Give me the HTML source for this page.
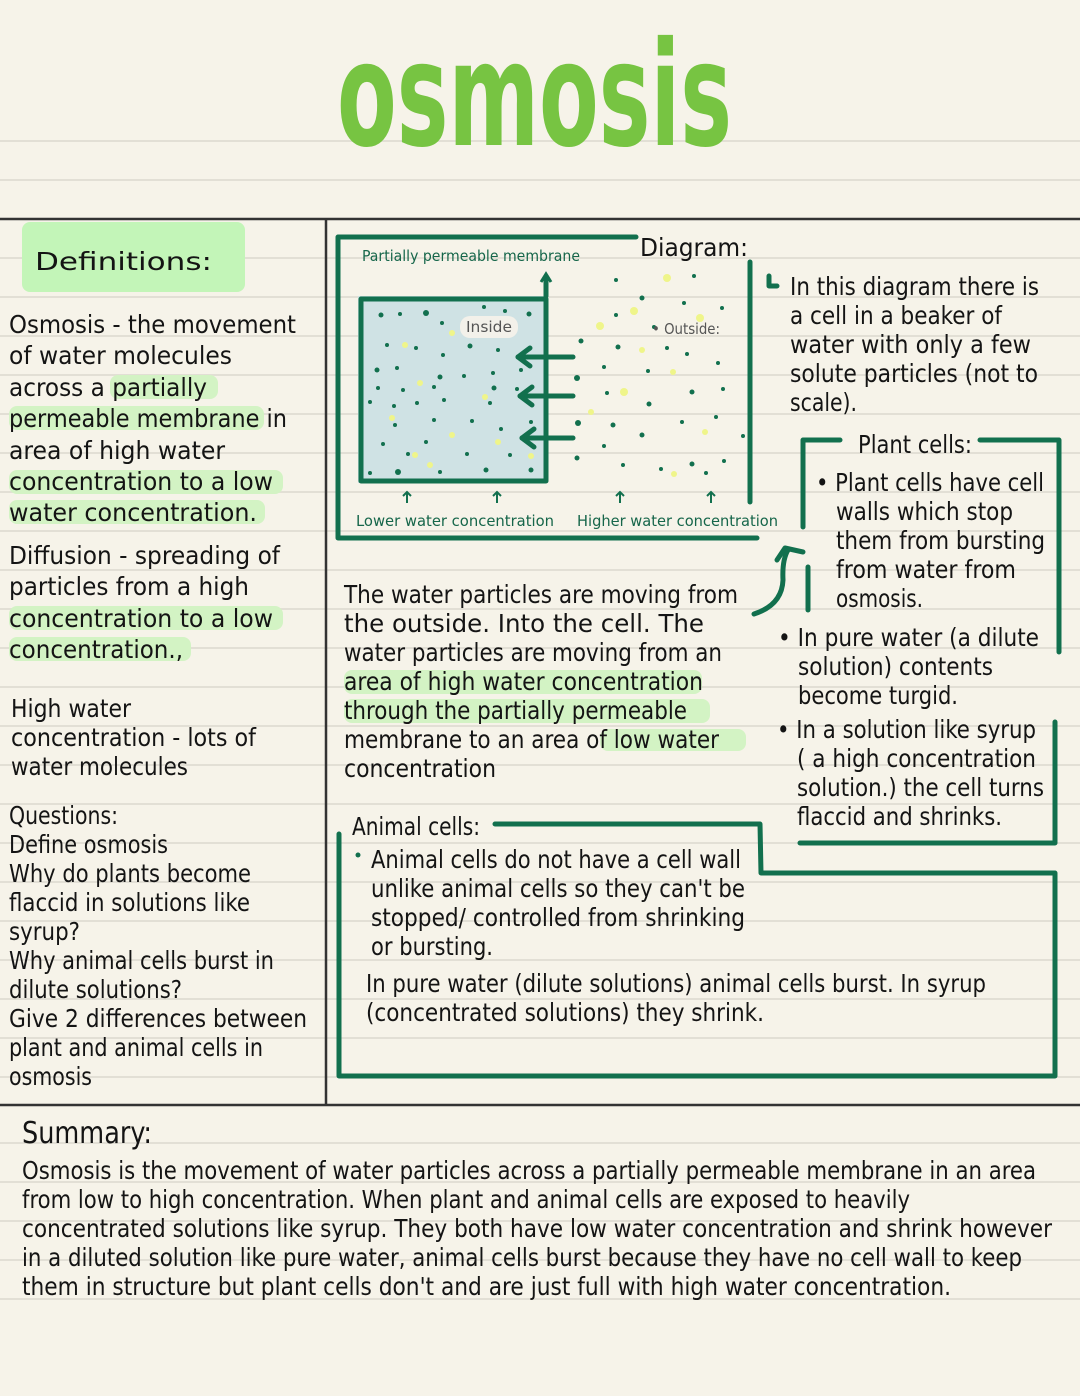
<!DOCTYPE html>
<html><head><meta charset="utf-8"><style>
html,body{margin:0;padding:0;background:#f6f3e9;}
svg{display:block}
.t{font-family:"DejaVu Sans Condensed","Liberation Sans",sans-serif;font-size:25px;fill:#141414}
.s{font-family:"DejaVu Sans Condensed","Liberation Sans",sans-serif;font-size:15px;fill:#16664a}
.g{fill:none;stroke:#12704e;stroke-width:5;stroke-linecap:round;stroke-linejoin:round}
</style></head><body>
<svg width="1080" height="1396" viewBox="0 0 1080 1396" xmlns="http://www.w3.org/2000/svg">
<rect width="1080" height="1396" fill="#f6f3e9"/>
<g stroke="#e2dfd5" stroke-width="2">
<line x1="0" y1="141" x2="1080" y2="141"/><line x1="0" y1="180" x2="1080" y2="180"/>
<line x1="0" y1="258" x2="1080" y2="258"/><line x1="0" y1="297" x2="1080" y2="297"/>
<line x1="0" y1="336" x2="1080" y2="336"/><line x1="0" y1="375" x2="1080" y2="375"/>
<line x1="0" y1="414" x2="1080" y2="414"/><line x1="0" y1="453" x2="1080" y2="453"/>
<line x1="0" y1="492" x2="1080" y2="492"/><line x1="0" y1="531" x2="1080" y2="531"/>
<line x1="0" y1="570" x2="1080" y2="570"/><line x1="0" y1="609" x2="1080" y2="609"/>
<line x1="0" y1="648" x2="1080" y2="648"/><line x1="0" y1="687" x2="1080" y2="687"/>
<line x1="0" y1="726" x2="1080" y2="726"/><line x1="0" y1="765" x2="1080" y2="765"/>
<line x1="0" y1="804" x2="1080" y2="804"/><line x1="0" y1="843" x2="1080" y2="843"/>
<line x1="0" y1="882" x2="1080" y2="882"/><line x1="0" y1="921" x2="1080" y2="921"/>
<line x1="0" y1="960" x2="1080" y2="960"/><line x1="0" y1="999" x2="1080" y2="999"/>
<line x1="0" y1="1038" x2="1080" y2="1038"/><line x1="0" y1="1077" x2="1080" y2="1077"/>
<line x1="0" y1="1143" x2="1080" y2="1143"/><line x1="0" y1="1182" x2="1080" y2="1182"/>
<line x1="0" y1="1221" x2="1080" y2="1221"/><line x1="0" y1="1260" x2="1080" y2="1260"/>
<line x1="0" y1="1299" x2="1080" y2="1299"/>
</g>
<!-- title -->
<text x="337" y="145" font-family="DejaVu Sans,sans-serif" font-weight="bold" font-size="145" fill="#77c442" textLength="395" lengthAdjust="spacingAndGlyphs">osmosis</text>
<!-- frame lines -->
<line x1="0" y1="219" x2="1080" y2="219" stroke="#333" stroke-width="2.5"/>
<line x1="0" y1="1105" x2="1080" y2="1105" stroke="#333" stroke-width="2.5"/>
<line x1="326" y1="219" x2="326" y2="1105" stroke="#333" stroke-width="2.5"/>
<!-- highlights -->
<g fill="#d3f3c4">
<rect x="22" y="222" width="223" height="70" rx="8" fill="#c3f5b8"/>
<rect x="110" y="375" width="108" height="24" rx="8"/>
<rect x="9" y="406" width="255" height="24" rx="8"/>
<rect x="9" y="470" width="274" height="24" rx="8"/>
<rect x="9" y="500" width="256" height="24" rx="8"/>
<rect x="9" y="606" width="274" height="24" rx="8"/>
<rect x="9" y="637" width="182" height="24" rx="8"/>
<rect x="344" y="670" width="358" height="24" rx="8"/>
<rect x="344" y="699" width="366" height="24" rx="8"/>
<rect x="600" y="729" width="146" height="22" rx="8"/>
</g>
<text class="t" x="35" y="270" font-size="38" textLength="177" lengthAdjust="spacingAndGlyphs">Definitions:</text>
<!-- left column -->
<g class="t">
<text x="9" y="333" textLength="287" lengthAdjust="spacingAndGlyphs">Osmosis - the movement</text>
<text x="9" y="364" textLength="223" lengthAdjust="spacingAndGlyphs">of water molecules</text>
<text x="9" y="396" textLength="198" lengthAdjust="spacingAndGlyphs">across a partially</text>
<text x="9" y="427" textLength="278" lengthAdjust="spacingAndGlyphs">permeable membrane in</text>
<text x="9" y="459" textLength="216" lengthAdjust="spacingAndGlyphs">area of high water</text>
<text x="9" y="490" textLength="264" lengthAdjust="spacingAndGlyphs">concentration to a low</text>
<text x="9" y="521" textLength="248" lengthAdjust="spacingAndGlyphs">water concentration.</text>
<text x="9" y="564" textLength="271" lengthAdjust="spacingAndGlyphs">Diffusion - spreading of</text>
<text x="9" y="595" textLength="240" lengthAdjust="spacingAndGlyphs">particles from a high</text>
<text x="9" y="627" textLength="264" lengthAdjust="spacingAndGlyphs">concentration to a low</text>
<text x="9" y="658" textLength="174" lengthAdjust="spacingAndGlyphs">concentration.,</text>
<text x="11" y="717" textLength="120" lengthAdjust="spacingAndGlyphs">High water</text>
<text x="11" y="746" textLength="245" lengthAdjust="spacingAndGlyphs">concentration - lots of</text>
<text x="11" y="775" textLength="177" lengthAdjust="spacingAndGlyphs">water molecules</text>
<text x="9" y="824" textLength="109" lengthAdjust="spacingAndGlyphs">Questions:</text>
<text x="9" y="853" textLength="159" lengthAdjust="spacingAndGlyphs">Define osmosis</text>
<text x="9" y="882" textLength="242" lengthAdjust="spacingAndGlyphs">Why do plants become</text>
<text x="9" y="911" textLength="241" lengthAdjust="spacingAndGlyphs">flaccid in solutions like</text>
<text x="9" y="940" textLength="71" lengthAdjust="spacingAndGlyphs">syrup?</text>
<text x="9" y="969" textLength="265" lengthAdjust="spacingAndGlyphs">Why animal cells burst in</text>
<text x="9" y="998" textLength="173" lengthAdjust="spacingAndGlyphs">dilute solutions?</text>
<text x="9" y="1027" textLength="298" lengthAdjust="spacingAndGlyphs">Give 2 differences between</text>
<text x="9" y="1056" textLength="254" lengthAdjust="spacingAndGlyphs">plant and animal cells in</text>
<text x="9" y="1085" textLength="83" lengthAdjust="spacingAndGlyphs">osmosis</text>
</g>
<!-- diagram -->
<rect x="358" y="296" width="190" height="187" fill="#cfe2e4"/>
<g class="g">
<polyline points="636,237 338,237 338,538 757,538"/>
<line x1="750" y1="262" x2="750" y2="502"/>
<rect x="361" y="299" width="185" height="182"/>
<line x1="546" y1="296" x2="546" y2="278"/>
<line x1="573" y1="357" x2="518" y2="357"/><polyline points="530,348 518,357 530,366"/>
<line x1="573" y1="396" x2="520" y2="396"/><polyline points="532,387 520,396 532,405"/>
<line x1="573" y1="438" x2="522" y2="438"/><polyline points="534,429 522,438 534,447"/>
</g>
<polyline points="541,282 546,274 551,282" fill="none" stroke="#12704e" stroke-width="3"/>
<rect x="460" y="316" width="58" height="22" rx="10" fill="#f3f1ea"/>
<g fill="#12704e">
<circle cx="381" cy="315" r="2.5"/><circle cx="400" cy="314" r="2"/><circle cx="426" cy="313" r="3"/><circle cx="442" cy="323" r="2"/><circle cx="484" cy="307" r="2"/><circle cx="505" cy="311" r="2"/><circle cx="529" cy="314" r="2.5"/>
<circle cx="387" cy="345" r="2"/><circle cx="416" cy="348" r="2"/><circle cx="443" cy="355" r="2"/><circle cx="470" cy="346" r="2.5"/><circle cx="498" cy="350" r="2"/>
<circle cx="377" cy="370" r="2.5"/><circle cx="397" cy="368" r="2"/><circle cx="440" cy="377" r="2.5"/><circle cx="464" cy="376" r="2"/><circle cx="493" cy="373" r="2"/><circle cx="521" cy="370" r="2"/>
<circle cx="378" cy="388" r="2"/><circle cx="403" cy="390" r="2"/><circle cx="434" cy="387" r="2"/><circle cx="494" cy="388" r="2.5"/><circle cx="517" cy="389" r="2"/>
<circle cx="370" cy="402" r="2"/><circle cx="394" cy="406" r="2"/><circle cx="417" cy="403" r="2"/><circle cx="444" cy="400" r="2"/><circle cx="490" cy="403" r="2"/>
<circle cx="395" cy="425" r="2"/><circle cx="434" cy="420" r="2"/><circle cx="472" cy="421" r="2"/><circle cx="501" cy="429" r="2"/><circle cx="531" cy="422" r="2"/>
<circle cx="383" cy="444" r="2"/><circle cx="426" cy="442" r="2"/><circle cx="408" cy="454" r="2"/><circle cx="467" cy="454" r="2"/><circle cx="510" cy="455" r="2"/>
<circle cx="370" cy="473" r="2"/><circle cx="398" cy="472" r="3"/><circle cx="440" cy="472" r="2"/><circle cx="486" cy="470" r="2.5"/><circle cx="531" cy="470" r="2.5"/>
<circle cx="616" cy="280" r="2"/><circle cx="694" cy="276" r="2"/><circle cx="642" cy="298" r="2.5"/><circle cx="684" cy="303" r="2"/><circle cx="722" cy="308" r="2"/><circle cx="616" cy="315" r="2"/><circle cx="654" cy="327" r="2"/>
<circle cx="581" cy="341" r="2.5"/><circle cx="618" cy="347" r="2.5"/><circle cx="667" cy="348" r="2"/><circle cx="687" cy="354" r="2"/><circle cx="604" cy="367" r="2"/><circle cx="648" cy="371" r="2"/><circle cx="718" cy="363" r="2"/>
<circle cx="577" cy="378" r="3"/><circle cx="607" cy="393" r="2"/><circle cx="649" cy="404" r="2.5"/><circle cx="692" cy="392" r="2.5"/><circle cx="723" cy="389" r="2"/>
<circle cx="578" cy="423" r="3"/><circle cx="613" cy="425" r="2.5"/><circle cx="642" cy="435" r="2.5"/><circle cx="682" cy="422" r="2"/><circle cx="716" cy="417" r="2"/><circle cx="743" cy="436" r="2"/>
<circle cx="604" cy="446" r="2"/><circle cx="623" cy="465" r="2"/><circle cx="577" cy="458" r="2.5"/><circle cx="661" cy="469" r="2"/><circle cx="692" cy="464" r="2.5"/><circle cx="706" cy="473" r="2"/><circle cx="724" cy="461" r="2"/>
</g>
<g fill="#eff58a">
<circle cx="667" cy="278" r="4"/><circle cx="634" cy="311" r="4"/><circle cx="600" cy="326" r="4"/><circle cx="700" cy="318" r="4"/><circle cx="642" cy="350" r="3"/><circle cx="673" cy="372" r="3"/><circle cx="624" cy="392" r="4"/><circle cx="591" cy="412" r="3"/><circle cx="705" cy="432" r="3"/><circle cx="674" cy="474" r="3"/>
<circle cx="405" cy="345" r="3"/><circle cx="452" cy="333" r="3"/><circle cx="420" cy="383" r="3"/><circle cx="485" cy="397" r="3"/><circle cx="392" cy="418" r="3"/><circle cx="452" cy="435" r="3"/><circle cx="415" cy="455" r="3"/><circle cx="498" cy="442" r="3"/><circle cx="430" cy="465" r="3"/><circle cx="531" cy="456" r="3"/>
</g>
<text class="s" x="362" y="261" textLength="218" lengthAdjust="spacingAndGlyphs">Partially permeable membrane</text>
<text class="s" x="466" y="332" style="fill:#555" textLength="46" lengthAdjust="spacingAndGlyphs">Inside</text>
<text class="s" x="652" y="334" style="fill:#555" textLength="68" lengthAdjust="spacingAndGlyphs">• Outside:</text>
<text class="s" x="356" y="526" textLength="198" lengthAdjust="spacingAndGlyphs">Lower water concentration</text>
<text class="s" x="577" y="526" textLength="201" lengthAdjust="spacingAndGlyphs">Higher water concentration</text>
<g stroke="#12704e" stroke-width="2" fill="none">
<path d="M407 503V492M403 496l4-4 4 4"/><path d="M497 503V492M493 496l4-4 4 4"/><path d="M620 503V492M616 496l4-4 4 4"/><path d="M711 503V492M707 496l4-4 4 4"/>
</g>
<text class="t" x="640" y="256" font-size="28" textLength="108" lengthAdjust="spacingAndGlyphs">Diagram:</text>
<!-- right top text -->
<path d="M769 276v10h8" class="g" stroke-width="4"/>
<g class="t">
<text x="790" y="295" textLength="249" lengthAdjust="spacingAndGlyphs">In this diagram there is</text>
<text x="790" y="324" textLength="212" lengthAdjust="spacingAndGlyphs">a cell in a beaker of</text>
<text x="790" y="353" textLength="241" lengthAdjust="spacingAndGlyphs">water with only a few</text>
<text x="790" y="382" textLength="248" lengthAdjust="spacingAndGlyphs">solute particles (not to</text>
<text x="790" y="411" textLength="67" lengthAdjust="spacingAndGlyphs">scale).</text>
</g>
<!-- plant box -->
<g class="g">
<polyline points="840,440 803,440 803,527"/>
<polyline points="980,440 1059,440 1059,652"/>
<line x1="808" y1="567" x2="808" y2="610"/>
<polyline points="1055,722 1055,843 800,843"/>
<path d="M754 614 Q782 605 783 580 Q782 560 788 550"/>
<polyline points="777,560 785,548 803,552"/>
</g>
<g class="t">
<text x="858" y="453" textLength="114" lengthAdjust="spacingAndGlyphs">Plant cells:</text>
<text x="816" y="491" textLength="228" lengthAdjust="spacingAndGlyphs">• Plant cells have cell</text>
<text x="836" y="520" textLength="177" lengthAdjust="spacingAndGlyphs">walls which stop</text>
<text x="836" y="549" textLength="209" lengthAdjust="spacingAndGlyphs">them from bursting</text>
<text x="836" y="578" textLength="180" lengthAdjust="spacingAndGlyphs">from water from</text>
<text x="836" y="607" textLength="87" lengthAdjust="spacingAndGlyphs">osmosis.</text>
<text x="778" y="646" textLength="261" lengthAdjust="spacingAndGlyphs">• In pure water (a dilute</text>
<text x="798" y="675" textLength="195" lengthAdjust="spacingAndGlyphs">solution) contents</text>
<text x="798" y="704" textLength="160" lengthAdjust="spacingAndGlyphs">become turgid.</text>
<text x="777" y="738" textLength="259" lengthAdjust="spacingAndGlyphs">• In a solution like syrup</text>
<text x="797" y="767" textLength="239" lengthAdjust="spacingAndGlyphs">( a high concentration</text>
<text x="797" y="796" textLength="247" lengthAdjust="spacingAndGlyphs">solution.) the cell turns</text>
<text x="797" y="825" textLength="205" lengthAdjust="spacingAndGlyphs">flaccid and shrinks.</text>
</g>
<!-- middle paragraph -->
<g class="t">
<text x="344" y="603" textLength="394" lengthAdjust="spacingAndGlyphs">The water particles are moving from</text>
<text x="344" y="632" textLength="360" lengthAdjust="spacingAndGlyphs">the outside. Into the cell. The</text>
<text x="344" y="661" textLength="378" lengthAdjust="spacingAndGlyphs">water particles are moving from an</text>
<text x="344" y="690" textLength="359" lengthAdjust="spacingAndGlyphs">area of high water concentration</text>
<text x="344" y="719" textLength="343" lengthAdjust="spacingAndGlyphs">through the partially permeable</text>
<text x="344" y="748" textLength="375" lengthAdjust="spacingAndGlyphs">membrane to an area of low water</text>
<text x="344" y="777" textLength="152" lengthAdjust="spacingAndGlyphs">concentration</text>
</g>
<!-- animal box -->
<g class="g">
<polyline points="495,824 760,824 761,873 1055,873 1055,1076 339,1076 339,834"/>
</g>
<g class="t">
<text x="352" y="835" textLength="128" lengthAdjust="spacingAndGlyphs">Animal cells:</text>
<text x="371" y="868" textLength="370" lengthAdjust="spacingAndGlyphs">Animal cells do not have a cell wall</text>
<text x="371" y="897" textLength="374" lengthAdjust="spacingAndGlyphs">unlike animal cells so they can't be</text>
<text x="371" y="926" textLength="374" lengthAdjust="spacingAndGlyphs">stopped/ controlled from shrinking</text>
<text x="371" y="955" textLength="122" lengthAdjust="spacingAndGlyphs">or bursting.</text>
<text x="366" y="992" textLength="620" lengthAdjust="spacingAndGlyphs">In pure water (dilute solutions) animal cells burst. In syrup</text>
<text x="366" y="1021" textLength="398" lengthAdjust="spacingAndGlyphs">(concentrated solutions) they shrink.</text>
</g>
<circle cx="358" cy="855" r="2.5" fill="#12704e"/>
<!-- summary -->
<g class="t">
<text x="22" y="1143" font-size="30" textLength="130" lengthAdjust="spacingAndGlyphs">Summary:</text>
<text x="22" y="1179" textLength="1014" lengthAdjust="spacingAndGlyphs">Osmosis is the movement of water particles across a partially permeable membrane in an area</text>
<text x="22" y="1208" textLength="888" lengthAdjust="spacingAndGlyphs">from low to high concentration. When plant and animal cells are exposed to heavily</text>
<text x="22" y="1237" textLength="1030" lengthAdjust="spacingAndGlyphs">concentrated solutions like syrup. They both have low water concentration and shrink however</text>
<text x="22" y="1266" textLength="1000" lengthAdjust="spacingAndGlyphs">in a diluted solution like pure water, animal cells burst because they have no cell wall to keep</text>
<text x="22" y="1295" textLength="929" lengthAdjust="spacingAndGlyphs">them in structure but plant cells don't and are just full with high water concentration.</text>
</g>
</svg>
</body></html>
